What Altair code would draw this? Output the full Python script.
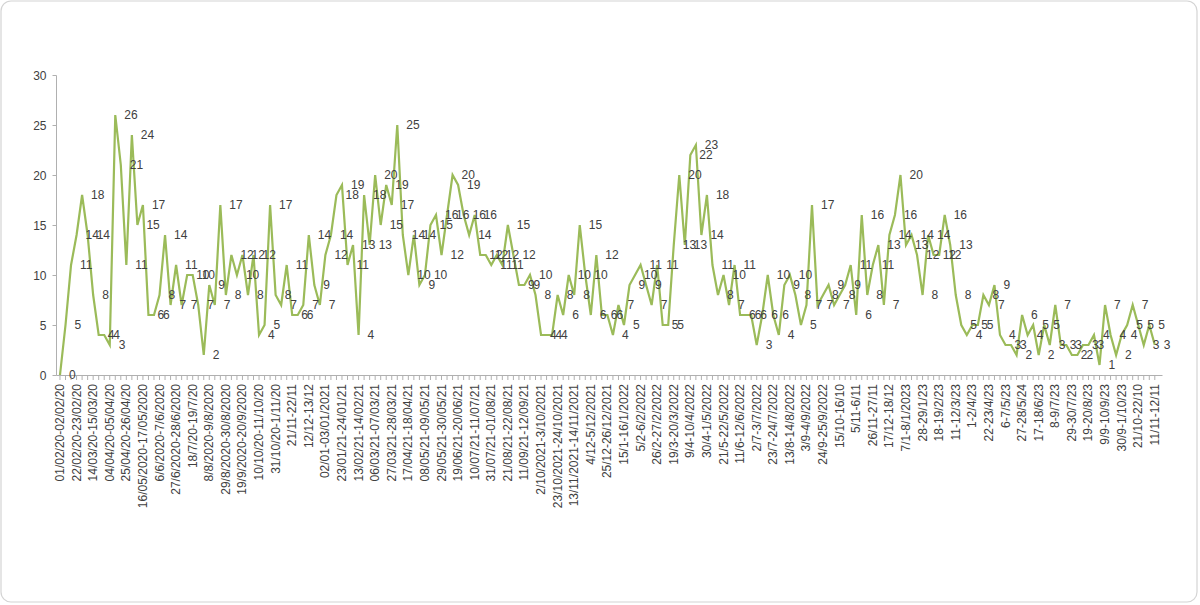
import altair as alt
import pandas as pd

# weekly values (one per weekend)
values = [
    0, 5, 11, 14, 18, 14, 8, 4, 4, 3, 26, 21, 11, 24, 15, 17, 6, 6, 8, 14, 7, 11, 7, 10, 10, 7, 2, 9, 7,
    17, 8, 12, 10, 12, 8, 12, 4, 5, 17, 8, 7, 11, 6, 6, 7,
    14, 9, 7, 12, 14, 18, 19, 11, 13, 4, 18, 13, 20, 15, 19, 17, 25,
    14, 10, 14, 9, 10, 15, 16, 12, 16, 20, 19, 16, 14, 16, 12, 12, 11, 12, 11, 15, 12, 9, 9, 10, 8, 4, 4, 4, 8, 6, 10, 8, 15, 10, 6,
    12, 6, 6, 4, 7, 5, 9, 10, 11, 9, 7, 11, 5, 5, 13, 20, 13, 22, 23, 14, 18, 11, 8, 10, 7, 11, 6, 6, 6, 3, 6, 10, 6, 4,
    9, 10, 8, 5, 7, 17, 7, 8, 9, 7, 8, 9, 11, 6, 16, 8, 11, 13, 7, 14, 16, 20, 13, 14, 12, 8, 14, 12, 12, 16, 13, 8, 5, 4, 5,
    5, 8, 7, 9, 4, 3, 3, 2, 6, 4, 5, 2, 5, 3, 7, 3, 3, 2, 2, 3, 3, 4, 1, 7, 4, 2, 4, 5, 7, 5, 3, 5, 3,
]

# category labels shown on the axis (every third week)
tick_labels = [
    "01/02/20-02/02/20", "22/02/20-23/02/20", "14/03/20-15/03/20", "04/04/20-05/04/20",
    "25/04/20-26/04/20", "16/05/2020-17/05/2020", "6/6/2020-7/6/2020", "27/6/2020-28/6/2020",
    "18/7/20-19/7/20", "8/8/2020-9/8/2020", "29/8/2020-30/8/2020", "19/9/2020-20/9/2020",
    "10/10/20-11/10/20", "31/10/20-1/11/20", "21/11-22/11", "12/12-13/12",
    "02/01-03/01/2021", "23/01/21-24/01/21", "13/02/21-14/02/21", "06/03/21-07/03/21",
    "27/03/21-28/03/21", "17/04/21-18/04/21", "08/05/21-09/05/21", "29/05/21-30/05/21",
    "19/06/21-20/06/21", "10/07/21-11/07/21", "31/07/21-01/08/21", "21/08/21-22/08/21",
    "11/09/21-12/09/21", "2/10/2021-3/10/2021", "23/10/2021-24/10/2021", "13/11/2021-14/11/2021",
    "4/12-5/12/2021", "25/12-26/12/2021", "15/1-16/1/2022", "5/2-6/2/2022",
    "26/2-27/2/2022", "19/3-20/3/2022", "9/4-10/4/2022", "30/4-1/5/2022",
    "21/5-22/5/2022", "11/6-12/6/2022", "2/7-3/7/2022", "23/7-24/7/2022",
    "13/8-14/8/2022", "3/9-4/9/2022", "24/9-25/9/2022", "15/10-16/10",
    "5/11-6/11", "26/11-27/11", "17/12-18/12", "7/1-8/1/2023",
    "28-29/1/23", "18-19/2/23", "11-12/3/23", "1-2/4/23",
    "22-23/4/23", "6-7/5/23", "27-28/5/24", "17-18/6/23",
    "8-9/7/23", "29-30/7/23", "19-20/8/23", "9/9-10/9/23",
    "30/9-1/10/23", "21/10-22/10", "11/11-12/11",
]

df = pd.DataFrame({"idx": list(range(len(values))), "value": values})
df_lab = pd.DataFrame({"idx": [3 * k for k in range(len(tick_labels))], "lab": tick_labels})

FONT = "Liberation Sans"
GRAY = "#404040"
AXIS_GRAY = "#b0b0b0"

x_scale = alt.Scale(domain=[-0.72, 199.3], nice=False, zero=False)
x_enc = alt.X(
    "idx:Q",
    scale=x_scale,
    axis=alt.Axis(
        labels=False,
        ticks=False,
        domainColor=AXIS_GRAY,
        grid=False,
        title=None,
    ),
)
y_enc = alt.Y(
    "value:Q",
    scale=alt.Scale(domain=[0, 30], nice=False),
    axis=alt.Axis(
        values=[0, 5, 10, 15, 20, 25, 30],
        labelFontSize=12,
        labelFont=FONT,
        labelColor=GRAY,
        tickSize=4,
        tickColor=AXIS_GRAY,
        domainColor=AXIS_GRAY,
        grid=False,
        title=None,
        labelPadding=6,
    ),
)

base = alt.Chart(df).encode(x=x_enc, y=y_enc)

# small tick marks for every weekly category
minor_ticks = alt.Chart(df).mark_rule(color=AXIS_GRAY, strokeWidth=1).encode(
    x=alt.X("idx:Q", scale=x_scale), y=alt.value(300), y2=alt.value(305)
)

# rotated category labels (every third week)
x_labels = alt.Chart(df_lab).mark_text(
    angle=270, align="right", baseline="middle", fontSize=12, font=FONT, color=GRAY
).encode(x=alt.X("idx:Q", scale=x_scale), y=alt.value(309), text="lab:N")

line = base.mark_line(color="#9BBB59", strokeWidth=2.2)
text = base.mark_text(
    align="left", baseline="middle", dx=9, fontSize=12, font=FONT, color=GRAY
).encode(text=alt.Text("value:Q"))

frame = alt.Chart(pd.DataFrame({"a": [0]})).mark_rect(
    filled=False, stroke="#d4d4d4", strokeWidth=1.2, cornerRadius=10
).encode(x=alt.value(-55), x2=alt.value(1141), y=alt.value(-74), y2=alt.value(527))

chart = (
    alt.layer(frame, minor_ticks, x_labels, line, text)
    .properties(
        width=1106,
        height=300,
        padding={"left": 56, "top": 75, "right": 38, "bottom": 230},
        autosize=alt.AutoSizeParams(type="none"),
        background="white",
    )
    .configure_view(stroke=None)
)

chart.save("out.html", embed_options={"renderer": "svg", "actions": False})
